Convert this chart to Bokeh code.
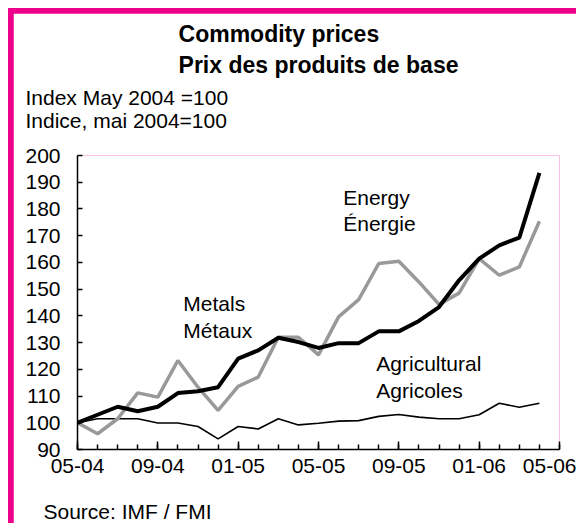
from bokeh.plotting import figure
from bokeh.models import FixedTicker, Title, Label
from bokeh.embed import file_html
from bokeh.resources import INLINE

# ---- data (index, May 2004 = 100), monthly 05-04 .. 04-06 ----
months = ["05-04", "06-04", "07-04", "08-04", "09-04", "10-04", "11-04", "12-04",
          "01-05", "02-05", "03-05", "04-05", "05-05", "06-05", "07-05", "08-05",
          "09-05", "10-05", "11-05", "12-05", "01-06", "02-06", "03-06", "04-06"]
metals = [100.0, 103.0, 106.0, 104.3, 106.0, 111.1, 111.8, 113.3,
          124.0, 127.1, 131.8, 130.2, 128.0, 129.8, 129.8, 134.2,
          134.2, 138.1, 143.3, 153.3, 161.4, 166.4, 169.3, 193.5]
energy = [100.0, 95.9, 101.5, 111.2, 109.6, 123.3, 113.3, 104.6,
          113.6, 117.1, 132.0, 132.0, 125.4, 139.6, 146.1, 159.6,
          160.4, 152.7, 144.3, 148.5, 161.4, 155.2, 158.3, 175.4]
agricultural = [100.0, 101.5, 101.5, 101.5, 99.9, 99.9, 98.6, 94.0,
                98.6, 97.7, 101.5, 99.2, 99.8, 100.6, 100.8, 102.4,
                103.1, 102.1, 101.5, 101.5, 103.0, 107.3, 105.8, 107.3]
x_tick_labels = ["05-04", "09-04", "01-05", "05-05", "09-05", "01-06", "05-06"]
y_ticks = [90, 100, 110, 120, 130, 140, 150, 160, 170, 180, 190, 200]

FONT = "Liberation Sans"
FS = "21px"
PINK = "#ec008c"
x = list(range(len(months)))

p = figure(width=576, height=523, output_backend="svg", toolbar_location=None,
           title=None, x_range=(0, 24), y_range=(90, 200),
           min_border_left=64, min_border_right=30, min_border_top=142,
           min_border_bottom=87,
           styles={"border-top": "8px solid white", "border-left": "8px solid white",
                   "padding-top": "5px", "padding-left": "5px",
                   "background-color": PINK})
p.outline_line_color = None
p.xgrid.visible = False
p.ygrid.visible = False
p.background_fill_color = "white"
p.border_fill_color = "white"

p.line(x, agricultural, line_color="black", line_width=1.6)
p.line(x, energy, line_color="#999999", line_width=3.5)
p.line(x, metals, line_color="black", line_width=4)

# axes
major_x = [0, 4, 8, 12, 16, 20, 24]
p.xaxis.ticker = FixedTicker(ticks=major_x, minor_ticks=list(range(25)))
p.xaxis.major_label_overrides = {t: l for t, l in zip(major_x, x_tick_labels)}
p.xaxis.major_tick_in = 8
p.xaxis.major_tick_out = 0
p.xaxis.minor_tick_in = 5
p.xaxis.minor_tick_out = 0
p.xaxis.axis_line_width = 1.5
p.xaxis.major_tick_line_width = 1.5
p.xaxis.minor_tick_line_width = 1.5
p.xaxis.major_label_standoff = 9
p.xaxis.major_label_text_font = FONT
p.xaxis.major_label_text_font_size = FS
p.xaxis.major_label_text_color = "black"

p.yaxis.ticker = FixedTicker(ticks=y_ticks)
p.yaxis.major_tick_in = 5
p.yaxis.major_tick_out = 0
p.yaxis.minor_tick_line_color = None
p.yaxis.axis_line_width = 1.5
p.yaxis.major_tick_line_width = 1.5
p.yaxis.major_label_standoff = 17
p.yaxis.major_label_text_font = FONT
p.yaxis.major_label_text_font_size = FS
p.yaxis.major_label_text_color = "black"

# titles (first added = closest to the plot)
p.add_layout(Title(text=" ", standoff=0, text_font=FONT, text_font_size="19.5px"), "above")
p.add_layout(Title(text="Index May 2004 =100\nIndice, mai 2004=100", align="left",
                   offset=-52, standoff=0, text_line_height=1.0, text_color="black",
                   text_font=FONT, text_font_size=FS, text_font_style="normal"), "above")
p.add_layout(Title(text="Commodity prices\nPrix des produits de base", align="center",
                   standoff=10, text_line_height=1.22, text_color="black",
                   text_font=FONT, text_font_size="23px", text_font_style="bold"), "above")
# empty spacer between the axis and the source line
p.add_layout(Title(text=" ", standoff=0, text_font=FONT, text_font_size="18px"), "below")
p.add_layout(Title(text="Source: IMF / FMI", align="left", offset=-34, standoff=0,
                   text_color="black",
                   text_font=FONT, text_font_size=FS, text_font_style="normal"), "below")

# series labels
for txt, lx, ly in [("Metals", 5.27, 144.6), ("Métaux", 5.27, 134.5),
                    ("Energy", 13.23, 184.4), ("Énergie", 13.23, 174.4),
                    ("Agricultural", 14.88, 122.1), ("Agricoles", 14.88, 112.2)]:
    p.add_layout(Label(x=lx, y=ly, text=txt, text_font=FONT, text_font_size=FS,
                       text_color="black", text_baseline="alphabetic", text_align="left"))

open("out.html", "w").write(file_html(p, INLINE))
